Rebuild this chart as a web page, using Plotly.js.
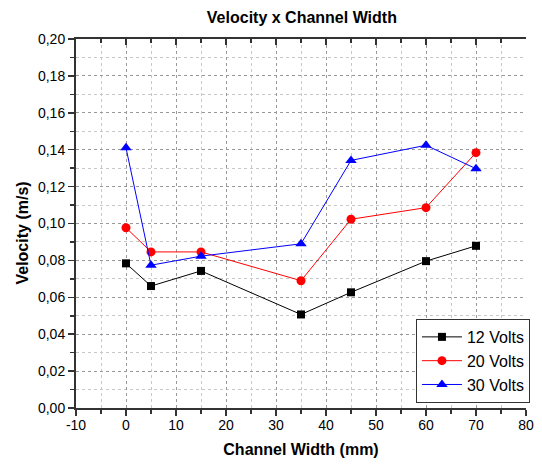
<!DOCTYPE html>
<html><head><meta charset="utf-8">
<script src="https://cdn.plot.ly/plotly-3.0.1.min.js"></script>
<style>body{margin:0;padding:0;background:#fff}#c{width:542px;height:465px}</style>
</head><body><div id="c"></div>
<script>
const channelWidth = [0, 5, 15, 35, 45, 60, 70];
const v12 = [0.0784, 0.0661, 0.0743, 0.0507, 0.0627, 0.0796, 0.0879];
const v20 = [0.0977, 0.0846, 0.0846, 0.0690, 0.1023, 0.1086, 0.1384];
const v30 = [0.1410, 0.0774, 0.0823, 0.0890, 0.1342, 0.1424, 0.1297];
const seriesNames = ['12 Volts', '20 Volts', '30 Volts'];
const xTickVals = [-10, 0, 10, 20, 30, 40, 50, 60, 70, 80];
const xTickText = ['-10', '0', '10', '20', '30', '40', '50', '60', '70', '80'];

const traces = [
  {x: channelWidth, y: v12, name: seriesNames[0], mode: 'lines+markers',
   line: {color: '#000000', width: 1}, marker: {symbol: 'square', size: 8, color: '#000000'}},
  {x: channelWidth, y: v20, name: seriesNames[1], mode: 'lines+markers',
   line: {color: '#ff0000', width: 1}, marker: {symbol: 'circle', size: 9, color: '#ff0000'}},
  {x: channelWidth, y: v30, name: seriesNames[2], mode: 'lines+markers',
   line: {color: '#0000ff', width: 1}, marker: {symbol: 'triangle-up', size: 10, color: '#0000ff'}},
  {x: [-10, 80], y: [null, null], xaxis: 'x2', showlegend: false, hoverinfo: 'skip', mode: 'lines'}
];

const fam = 'Arial, Liberation Sans, sans-serif';
const tickFont = {family: fam, size: 14, color: '#000'};
const layout = {
  width: 542, height: 465,
  margin: {l: 76, r: 14, t: 39, b: 57},
  separators: ',.',
  paper_bgcolor: '#fff', plot_bgcolor: '#fff',
  title: {text: '<b>Velocity x Channel Width</b>', x: 0.557, xanchor: 'center', y: 0.963, yanchor: 'middle',
          font: {family: fam, size: 16, color: '#000'}},
  xaxis: {
    range: [-10, 80], tickmode: 'array', tickvals: xTickVals, ticktext: xTickText,
    ticks: 'outside', ticklen: 6, tickwidth: 1.5, tickcolor: '#333',
    ticklabelstandoff: -3,
    showline: true, linecolor: '#333', linewidth: 2, mirror: true, zeroline: false,
    showgrid: true, gridcolor: '#999', griddash: 'dot', gridwidth: 1,
    minor: {tick0: 0, dtick: 5, ticks: 'outside', ticklen: 4, tickcolor: '#333', showgrid: true, gridcolor: '#c8c8c8', griddash: 'dot'},
    tickfont: tickFont,
    title: {text: '<b>Channel Width (mm)</b>', standoff: 12, font: {family: fam, size: 16, color: '#000'}}
  },
  xaxis2: {
    overlaying: 'x', side: 'top', range: [-10, 80], dtick: 10, tick0: 0, ticks: 'inside', ticklen: 6, tickwidth: 1.5,
    tickcolor: '#333', showticklabels: false, showgrid: false, zeroline: false, showline: false,
    minor: {dtick: 5, ticks: 'inside', ticklen: 4, tickcolor: '#333', showgrid: false}
  },
  yaxis: {
    range: [0, 0.2], dtick: 0.02, tickformat: '.2f', ticks: 'outside', ticklen: 6, tickwidth: 1.5, tickcolor: '#333',
    ticklabelstandoff: 0,
    showline: true, linecolor: '#333', linewidth: 2, zeroline: false,
    showgrid: true, gridcolor: '#999', griddash: 'dot', gridwidth: 1,
    minor: {dtick: 0.01, ticks: 'outside', ticklen: 4, tickcolor: '#333', showgrid: true, gridcolor: '#c8c8c8', griddash: 'dot'},
    tickfont: tickFont,
    title: {text: ''}
  },
  annotations: [
    {text: '<b>Velocity (m/s)</b>', textangle: -90, xref: 'paper', yref: 'paper',
     x: -0.119, y: 0.474, xanchor: 'center', yanchor: 'middle', showarrow: false,
     font: {family: fam, size: 16, color: '#000'}}
  ],
  legend: {
    x: 1.0088, xanchor: 'right', y: 0.0136, yanchor: 'bottom',
    bgcolor: '#fff', bordercolor: '#333', borderwidth: 1,
    font: {family: fam, size: 16, color: '#000'},
    tracegroupgap: 0, itemwidth: 40
  },
  showlegend: true
};

Plotly.newPlot('c', traces, layout, {staticPlot: true, displayModeBar: false});
</script>
</body></html>
